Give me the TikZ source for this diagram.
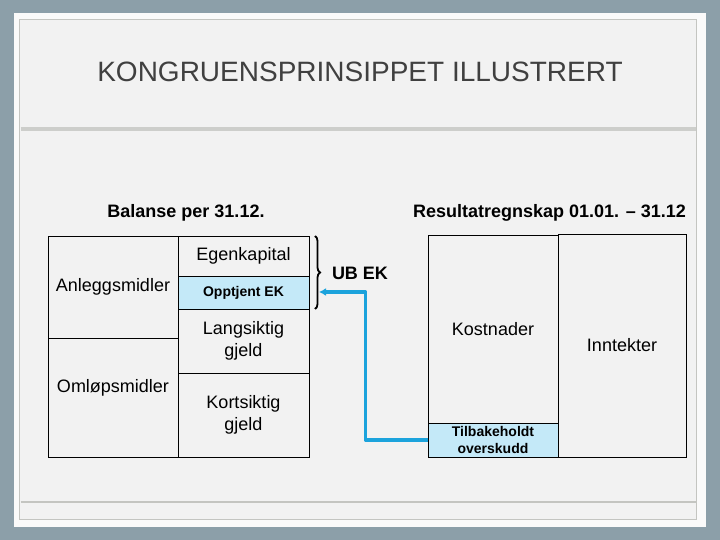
\documentclass[tikz,border=0pt]{standalone}
\usepackage{fontspec}
\setmainfont{Liberation Sans}
\usetikzlibrary{arrows.meta,decorations.pathreplacing}
\definecolor{slate}{HTML}{8C9FA9}
\definecolor{panel}{HTML}{F2F2F2}
\definecolor{rim}{HTML}{C4C5C1}
\definecolor{lightblue}{HTML}{C4E9F8}
\definecolor{flowblue}{HTML}{1CA3DC}
\tikzset{
  box/.style={draw, rectangle, line width=0.9pt, inner sep=0pt, align=center},
  txt/.style={font=\fontsize{18}{22}\selectfont},
  smalltxt/.style={font=\bfseries\fontsize{14}{17}\selectfont, align=center},
  headtxt/.style={font=\bfseries\fontsize{18}{22}\selectfont}
}

\begin{document}
\begin{tikzpicture}[x=1pt,y=-1pt]
\useasboundingbox (0,0) rectangle (720,540);
\fill[slate] (0,0) rectangle (720,540);
\fill[white!60!panel] (14,13) rectangle (706,527);
\draw[rim, line width=1.5pt, fill=panel] (19.5,19.5) rectangle (696.5,519.5);
\draw[rim!80!panel, line width=4pt] (20.5,129) -- (695.5,129);
\draw[rim, line width=1.5pt] (20.5,502) -- (695.5,502);

\node[font=\fontsize{28}{32}\selectfont, text=black!75] (title) at (360,72) {KONGRUENSPRINSIPPET ILLUSTRERT};

\node[headtxt] (balhead) at (186,213) {Balanse per 31.12.};
\node[headtxt] (reshead) at (549.5,213) {Resultatregnskap 01.01. – 31.12};

\node[box, txt, minimum width=130pt, minimum height=102pt] (anlegg) at (113,287) {Anleggsmidler};
\node[box, minimum width=130pt, minimum height=119pt] (omlop) at (113,397.5) {};
\node[txt] (omloptxt) at (113,388) {Omløpsmidler};
\node[box, txt, minimum width=131pt, minimum height=40pt] (egen) at (243.5,256) {Egenkapital};
\node[box, smalltxt, fill=lightblue, minimum width=131pt, minimum height=33pt] (opptjent) at (243.5,292.5) {Opptjent EK};
\node[box, txt, minimum width=131pt, minimum height=64pt] (lang) at (243.5,341) {Langsiktig\\gjeld};
\node[box, txt, minimum width=131pt, minimum height=84pt] (kort) at (243.5,415) {Kortsiktig\\gjeld};

\node[box, txt, minimum width=130pt, minimum height=188pt] (kost) at (493,329) {Kostnader};
\node[box, smalltxt, fill=lightblue, minimum width=130pt, minimum height=34pt] (tilbake) at (493,440) {Tilbakeholdt\\overskudd};
\node[box, txt, minimum width=128pt, minimum height=223pt] (inntekt) at (622,345.5) {Inntekter};
\draw[line width=1.6pt] (kost.north east) -- (tilbake.south east);

\draw[decorate, decoration={brace, amplitude=5pt}, line width=1.8pt] (315,236) -- (315,309);
\node[headtxt] (ubek) at (360,273) {UB EK};

\coordinate (ubtip) at (319,292);
\draw[flowblue, line width=3.5pt, line join=round, -{Latex[length=7pt,width=8pt]}] (tilbake.west) -- ++(-62,0) |- (ubtip);
\end{tikzpicture}
\end{document}
